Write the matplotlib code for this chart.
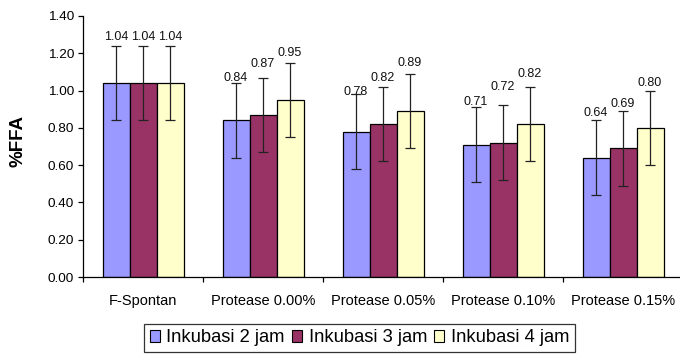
import numpy as np
import matplotlib
matplotlib.use("Agg")
import matplotlib.pyplot as plt
from matplotlib.ticker import FixedLocator, FormatStrFormatter

plt.rcParams['font.family'] = ['Liberation Sans', 'DejaVu Sans']

categories = ["F-Spontan", "Protease 0.00%", "Protease 0.05%", "Protease 0.10%", "Protease 0.15%"]
series_names = ["Inkubasi 2 jam", "Inkubasi 3 jam", "Inkubasi 4 jam"]
inkubasi_2 = [1.04, 0.84, 0.78, 0.71, 0.64]
inkubasi_3 = [1.04, 0.87, 0.82, 0.72, 0.69]
inkubasi_4 = [1.04, 0.95, 0.89, 0.82, 0.80]
error = [0.2, 0.2, 0.2, 0.2, 0.2]

series = [inkubasi_2, inkubasi_3, inkubasi_4]
colors = ["#9999FF", "#993366", "#FFFFCC"]
# extra lift of each value label above its error cap (per series, per group)
label_lift = [
    [0.05, 0.03, 0.01, 0.03, 0.04],
    [0.05, 0.07, 0.05, 0.10, 0.04],
    [0.05, 0.05, 0.06, 0.07, 0.04],
]

fig = plt.figure(figsize=(6.8, 3.54), dpi=100)
ax = fig.add_axes([83 / 680, 1 - 277 / 354, 600 / 680, 261 / 354])

x = np.arange(len(categories))
width = 0.225
for i, (vals, col) in enumerate(zip(series, colors)):
    pos = x + (i - 1) * width
    ax.bar(pos, vals, width, color=col, edgecolor="black", linewidth=0.9,
           label=series_names[i], zorder=2)
    ax.errorbar(pos, vals, yerr=error, fmt="none", ecolor="#222222",
                elinewidth=0.9, capsize=3.3, capthick=0.9, zorder=3)
    for p, v, e, lift in zip(pos, vals, error, label_lift[i]):
        ax.text(p, v + e + lift, f"{v:.2f}", ha="center", va="center",
                fontsize=9, color="#111111", zorder=4)

ax.set_xlim(-0.5, len(categories) - 0.5)
ax.set_ylim(0, 1.4)
ax.set_yticks(np.arange(0, 1.41, 0.2))
ax.yaxis.set_major_formatter(FormatStrFormatter("%.2f"))
ax.tick_params(axis="y", direction="out", length=3.5, width=0.9, labelsize=9.7, pad=3)

ax.set_xticks(x)
ax.set_xticklabels(categories, fontsize=10.5)
ax.tick_params(axis="x", which="major", length=0, pad=12)
ax.xaxis.set_minor_locator(FixedLocator(np.arange(-0.5, len(categories), 1.0)))
ax.tick_params(axis="x", which="minor", direction="out", length=3.5, width=0.9)

for side in ("top", "right"):
    ax.spines[side].set_visible(False)
for side in ("left", "bottom"):
    ax.spines[side].set_linewidth(0.9)

fig.text(18 / 680, 1 - 141 / 354, "%FFA", rotation=90, ha="center", va="center",
         fontsize=13.5, fontweight="bold")

leg = fig.legend(loc="center", bbox_to_anchor=(359.5 / 680, 1 - 338 / 354), ncol=3,
                 fontsize=13.2, frameon=True, fancybox=False, edgecolor="black",
                 handlelength=0.56, handleheight=0.56, handletextpad=0.35,
                 columnspacing=0.38, borderpad=0.3, borderaxespad=0)
leg.get_frame().set_linewidth(0.9)
for h in leg.legend_handles:
    h.set_linewidth(0.8)

fig.savefig("out.png", dpi=100)
